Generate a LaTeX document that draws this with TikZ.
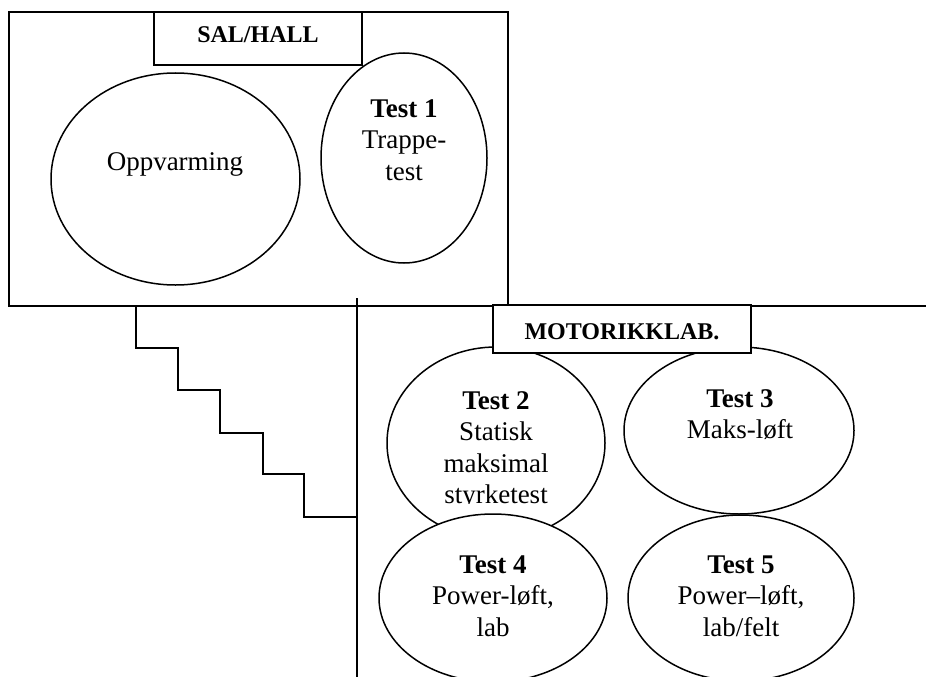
\documentclass[tikz,border=0pt]{standalone}
\usepackage{fontspec}
\setmainfont{Liberation Serif}
\usetikzlibrary{shapes.geometric}
\newcommand\stk[1]{\begin{tabular}[t]{@{}c@{}}#1\end{tabular}}
\begin{document}
\begin{tikzpicture}[x=1pt,y=-1pt, line width=1.5pt,
 ell/.style={ellipse,draw,fill=white,inner sep=0pt,outer sep=0pt},
 lbl/.style={rectangle,draw,fill=white,inner sep=0pt,outer sep=0pt},
 room/.style={rectangle,draw,inner sep=0pt,outer sep=0pt},
 txt/.style={anchor=base,inner sep=0pt,font=\fontsize{27}{31.5}\selectfont},
 lbltxt/.style={anchor=base,inner sep=0pt,font=\fontsize{24}{28}\selectfont\bfseries}]
\useasboundingbox (0,0) rectangle (926,677);
\clip (0,0) rectangle (926,677);

% hall
\node[room, minimum width=499pt, minimum height=294pt] (sal) at (258.5,159) {};
\coordinate (wallR) at (926,306);
\draw (sal.south west) -- (wallR);
\coordinate (vtop) at (357,298);
\coordinate (vbot) at (357,677);
\draw (vtop) -- (vbot);

% stairs
\coordinate (stairtop) at (136,306);
\coordinate (stairend) at (357,517);
\draw (stairtop) -- ++(0,42) -- ++(42,0) -- ++(0,42) -- ++(42,0) -- ++(0,43) -- ++(43,0)
  -- ++(0,41) -- ++(41,0) -- ++(0,43) -- (stairend);

% hall ellipses
\node[ell, minimum width=249pt, minimum height=212pt] (oppv) at (175.5,179) {};
\node[txt] (oppvtxt) at (175,170) {Oppvarming};
\node[ell, minimum width=166pt, minimum height=210pt] (t1) at (404,158) {};
\node[txt] (t1txt) at (404,117) {\stk{\textbf{Test 1}\\Trappe-\\test}};
\node[lbl, minimum width=208pt, minimum height=53pt] (salbox) at (258,38.5) {};
\node[lbltxt] (saltxt) at (258,43) {SAL/HALL};

% lab ellipses
\node[ell, minimum width=218pt, minimum height=192pt] (t2) at (496,443) {};
\begin{scope}
\clip (380,340) rectangle (615,503);
\node[txt] (t2txt) at (496,409) {\stk{\textbf{Test 2}\\Statisk\\maksimal\\styrketest}};
\end{scope}
\node[ell, minimum width=230pt, minimum height=167pt] (t3) at (739,430.5) {};
\node[txt] (t3txt) at (740,407) {\stk{\textbf{Test 3}\\Maks-løft}};
\node[ell, minimum width=228pt, minimum height=168pt] (t4) at (493,598) {};
\node[txt] (t4txt) at (493,573) {\stk{\textbf{Test 4}\\Power-løft,\\lab}};
\node[ell, minimum width=226pt, minimum height=166pt] (t5) at (741,598) {};
\node[txt] (t5txt) at (741,573) {\stk{\textbf{Test 5}\\Power–løft,\\lab/felt}};
\node[lbl, minimum width=258pt, minimum height=48pt] (motbox) at (622,329) {};
\node[lbltxt] (mottxt) at (622,339) {MOTORIKKLAB.};
\end{tikzpicture}
\end{document}
